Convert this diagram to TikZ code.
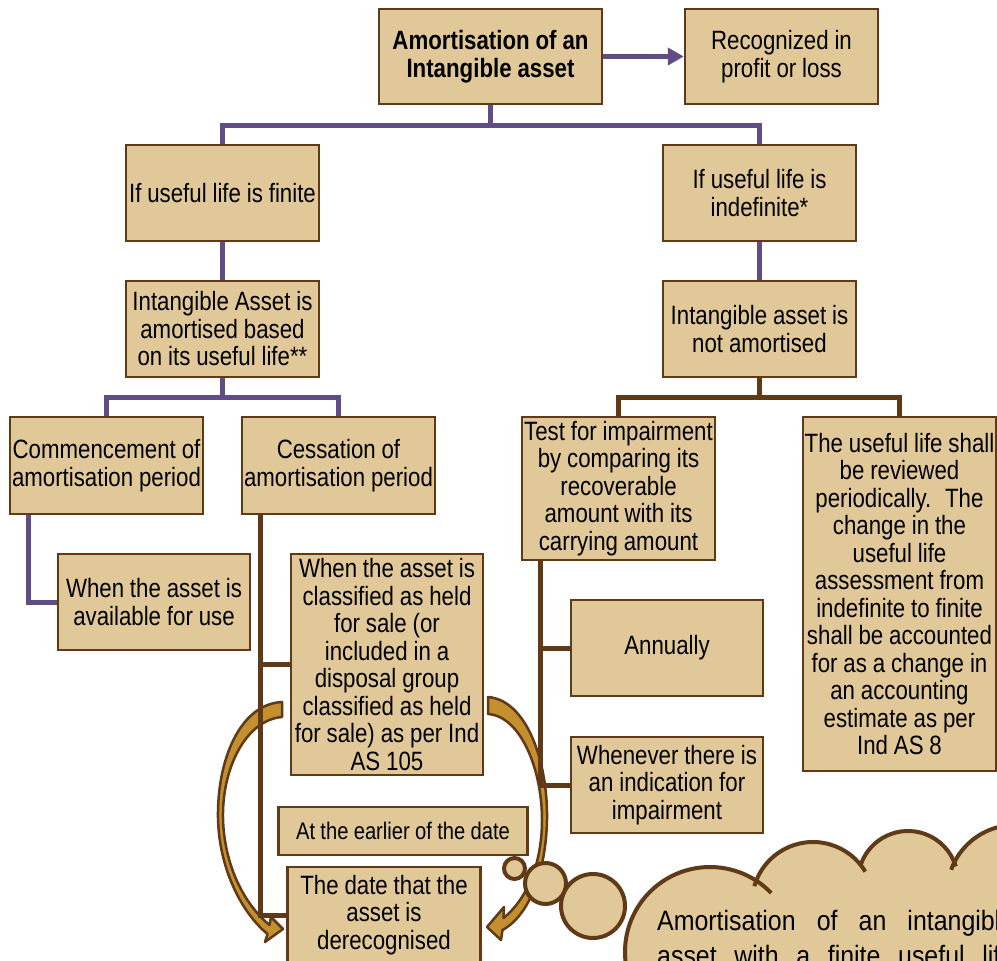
\documentclass[tikz,border=0pt]{standalone}
\usepackage{fontspec}
\setmainfont{Liberation Sans}[FakeStretch=0.84, WordSpace=0.95]
\newfontfamily\cloudfont{Liberation Sans}[FakeStretch=0.89]
\usetikzlibrary{arrows.meta}
\definecolor{boxfill}{RGB}{225,200,152}
\definecolor{bordbrown}{RGB}{96,57,22}
\definecolor{linepurple}{RGB}{96,76,134}
\definecolor{arrowgold}{RGB}{196,143,46}
\begin{document}
\begin{tikzpicture}[x=1pt,y=-1pt,
  box/.style={draw=bordbrown, line width=2.5pt, fill=boxfill, inner sep=0pt, align=center,
    minimum width=193pt, minimum height=96pt, font=\fontsize{26.5}{27.5}\selectfont},
  pline/.style={draw=linepurple, line width=5pt},
  bline/.style={draw=bordbrown, line width=5pt},
  curvedarrow/.style={draw=bordbrown, line width=2.5pt, fill=arrowgold, line join=round},
  bubble/.style={draw=bordbrown, line width=4pt, fill=boxfill},
  cloudline/.style={draw=bordbrown, line width=4pt},
  cloudtext/.style={anchor=base west, inner sep=0pt, font=\cloudfont\fontsize{28}{35}\selectfont},
]
\useasboundingbox (0,0) rectangle (997,961);
\clip (0,0) rectangle (997,961);

% curved arrows (behind everything else)
\path[curvedarrow] (282,702) .. controls (240,704) and (217,760) .. (218,818)
  .. controls (219,868) and (241,912) .. (267.5,934)
  -- (265,942) -- (283,929) -- (271,917) -- (269.5,925)
  .. controls (245,905) and (224,866) .. (223,818)
  .. controls (222,768) and (246,720) .. (282,717) -- cycle;
\path[curvedarrow] (488,697) .. controls (526,700) and (548,760) .. (547,820)
  .. controls (546,870) and (530,915) .. (502.5,930)
  -- (501,940) -- (487,927) -- (504,907) -- (503.5,918)
  .. controls (526,900) and (542,865) .. (542,820)
  .. controls (542,768) and (520,716) .. (488,714) -- cycle;

% boxes
\node[box, minimum width=223pt, minimum height=95pt] (main) at (490.5,56.5) {\bfseries Amortisation of an\\\bfseries Intangible asset};
\node[box, minimum height=95pt] (recog) at (781.5,56.5) {Recognized in\\profit or loss};
\node[box] (finite) at (222.5,193) {If useful life is finite};
\node[box] (indef) at (759.5,193) {If useful life is\\indefinite*};
\node[box] (amort) at (222.5,329) {Intangible Asset is\\amortised based\\on its useful life**};
\node[box] (notam) at (759.5,329) {Intangible asset is\\not amortised};
\node[box, minimum height=97pt] (commence) at (106.5,465.5) {Commencement of\\amortisation period};
\node[box, minimum height=97pt] (cess) at (338.5,465.5) {Cessation of\\amortisation period};
\node[box, minimum height=143pt] (test) at (618.5,488.5) {Test for impairment\\by comparing its\\recoverable\\amount with its\\carrying amount};
\node[box, minimum height=354pt] (review) at (899.5,594) {The useful life shall\\be reviewed\\periodically.~ The\\change in the\\useful life\\assessment from\\indefinite to finite\\shall be accounted\\for as a change in\\an accounting\\estimate as per\\Ind AS 8};
\node[box, minimum width=192pt] (avail) at (154,602) {When the asset is\\available for use};
\node[box, minimum width=192pt, minimum height=221pt] (held) at (387,664.5) {When the asset is\\classified as held\\for sale (or\\included in a\\disposal group\\classified as held\\for sale) as per Ind\\AS 105};
\node[box, minimum width=249pt, minimum height=48pt, font=\fontsize{24}{27}\selectfont] (earlier) at (403,831) {At the earlier of the date};
\node[box] (derec) at (384,915) {The date that the\\asset is\\derecognised};
\node[box, minimum width=192pt] (annual) at (667,648) {Annually};
\node[box, minimum width=192pt] (whenever) at (667,785) {Whenever there is\\an indication for\\impairment};

% connectors
\draw[pline, -{Triangle[length=16pt,width=17pt]}] (main.east) -- (recog.west);
\draw[pline] (main.south) -- (main.south |- 0,125) -| (finite.north);
\draw[pline] (main.south |- 0,125) -| (indef.north);
\draw[pline] (finite.south) -- (amort.north);
\draw[pline] (indef.south) -- (notam.north);
\draw[pline] (amort.south) -- (amort.south |- 0,397) -| (commence.north);
\draw[pline] (amort.south |- 0,397) -| (cess.north);
\draw[bline] (notam.south) -- (notam.south |- 0,397) -| (test.north);
\draw[bline] (notam.south |- 0,397) -| (review.north);
\draw[pline] ([xshift=20pt]commence.south west) |- (avail.west);
\draw[bline] ([xshift=20pt]cess.south west) |- (held.west);
\draw[bline] ([xshift=20pt]cess.south west) |- (derec.west);
\draw[bline] ([xshift=20pt]test.south west) |- (annual.west);
\draw[bline] ([xshift=20pt]test.south west) |- (whenever.west);

% thought bubbles and cloud
\path[bubble] (514.5,868.5) circle[radius=10.5];
\path[bubble] (545.5,883.5) circle[radius=20.5];
\path[bubble] (593,906) circle[radius=32];
\fill[boxfill] (710,952) circle[radius=85];
\fill[boxfill] (813,903) circle[radius=61];
\fill[boxfill] (908,881) circle[radius=50];
\fill[boxfill] (1015,893) circle[radius=68];
\fill[boxfill] (700,895) rectangle (1000,965);
\draw[cloudline] (710,952) ++(174:85) arc[start angle=174, end angle=316, radius=85];
\draw[cloudline] (813,903) ++(196:61) arc[start angle=196, end angle=329, radius=61];
\draw[cloudline] (908,881) ++(200:50) arc[start angle=200, end angle=343, radius=50];
\draw[cloudline] (1015,893) ++(200:68) arc[start angle=200, end angle=300, radius=68];
\node[cloudtext] (cloudA) at (657,930) {\makebox[357pt][s]{Amortisation of an intangible}};
\node[cloudtext] (cloudB) at (657,965) {\makebox[357pt][s]{asset with a finite useful life}};
\end{tikzpicture}
\end{document}
